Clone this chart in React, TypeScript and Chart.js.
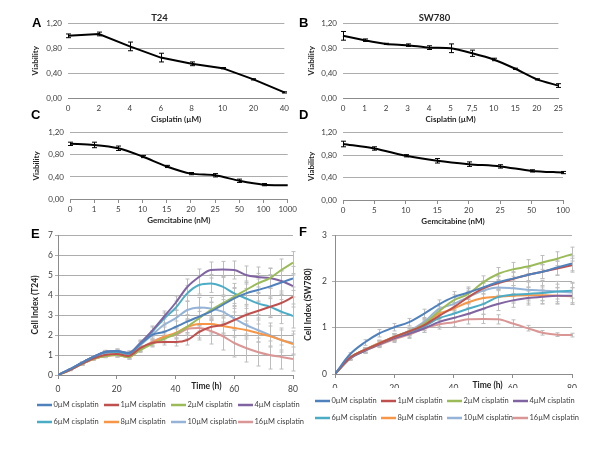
import React, { useEffect, useRef } from "react";
import { Chart, registerables } from "chart.js";

Chart.register(...registerables);

const FONT = "Lato, 'Open Sans', 'Liberation Sans', sans-serif";
Chart.defaults.font.family = FONT;
Chart.defaults.color = "#404040";

// ---------- Panel A: T24, cisplatin ----------
const catsA = ["0", "2", "4", "6", "8", "10", "20", "40"];
const viabA = [1.0, 1.03, 0.83, 0.65, 0.55, 0.48, 0.3, 0.09];
const errA = [0.03, 0.03, 0.07, 0.07, 0.03, 0.01, 0.01, 0.01];

// ---------- Panel B: SW780, cisplatin ----------
const catsB = ["0", "1", "2", "3", "4", "5", "7,5", "10", "15", "20", "25"];
const viabB = [1.0, 0.93, 0.87, 0.85, 0.81, 0.8, 0.72, 0.62, 0.47, 0.3, 0.2];
const errB = [0.07, 0.02, 0.01, 0.02, 0.03, 0.07, 0.05, 0.02, 0.01, 0.01, 0.03];

// ---------- Panel C: T24, gemcitabine ----------
const catsC = ["0", "1", "5", "10", "15", "20", "25", "50", "100", "1000"];
const viabC = [1.0, 0.98, 0.92, 0.77, 0.59, 0.46, 0.43, 0.33, 0.26, 0.25];
const errC = [0.03, 0.05, 0.04, 0.02, 0.02, 0.02, 0.03, 0.03, 0.02, 0.0];

// ---------- Panel D: SW780, gemcitabine ----------
const catsD = ["0", "5", "10", "15", "20", "25", "50", "100"];
const viabD = [1.0, 0.92, 0.79, 0.7, 0.64, 0.6, 0.52, 0.49];
const errD = [0.05, 0.03, 0.02, 0.04, 0.04, 0.03, 0.02, 0.02];

// ---------- Series names (E, F) ----------
const seriesNames = [
  "0µM cisplatin",
  "1µM cisplatin",
  "2µM cisplatin",
  "4µM cisplatin",
  "6µM cisplatin",
  "8µM cisplatin",
  "10µM cisplatin",
  "16µM cisplatin",
];
const seriesColors = ["#4F81BD", "#C0504D", "#9BBB59", "#8064A2", "#4BACC6", "#F79646", "#95B3D7", "#D99694"];

// ---------- Panel E: Cell index T24 ----------
const timesE = [0, 4, 8, 12, 16, 20, 24, 28, 32, 36, 40, 44, 48, 52, 56, 60, 64, 68, 72, 76, 80];
const e0 = [0, 0.28, 0.6, 0.9, 1.15, 1.2, 1.1, 1.55, 2.0, 2.15, 2.4, 2.67, 2.92, 3.17, 3.5, 3.83, 4.08, 4.25, 4.42, 4.62, 4.83];
const e1 = [0, 0.25, 0.55, 0.82, 1.0, 1.05, 0.95, 1.35, 1.6, 1.65, 1.65, 1.75, 2.15, 2.4, 2.5, 2.75, 3.0, 3.2, 3.4, 3.6, 3.9];
const e2 = [0, 0.25, 0.55, 0.8, 0.95, 1.0, 0.9, 1.25, 1.55, 1.8, 2.05, 2.42, 2.83, 3.25, 3.58, 3.92, 4.25, 4.58, 4.83, 5.25, 5.62];
const e4 = [0, 0.28, 0.6, 0.9, 1.15, 1.2, 1.1, 1.6, 2.2, 2.9, 3.6, 4.4, 4.9, 5.25, 5.28, 5.25, 5.0, 4.9, 4.85, 4.7, 4.45];
const e6 = [0, 0.28, 0.6, 0.9, 1.12, 1.15, 1.05, 1.55, 2.15, 2.8, 3.35, 4.08, 4.5, 4.58, 4.42, 4.08, 3.83, 3.58, 3.42, 3.17, 2.95];
const e8 = [0, 0.25, 0.55, 0.8, 0.95, 1.0, 0.9, 1.3, 1.6, 1.9, 2.1, 2.4, 2.55, 2.55, 2.45, 2.35, 2.25, 2.1, 1.95, 1.75, 1.55];
const e10 = [0, 0.28, 0.6, 0.9, 1.1, 1.15, 1.05, 1.5, 2.0, 2.5, 2.83, 3.25, 3.38, 3.33, 3.17, 2.83, 2.5, 2.25, 2.0, 1.75, 1.6];
const e16 = [0, 0.25, 0.55, 0.8, 0.95, 1.0, 0.9, 1.3, 1.65, 1.9, 2.0, 2.3, 2.35, 2.2, 1.95, 1.6, 1.35, 1.15, 1.0, 0.9, 0.8];

const se0 = [0, 0.03, 0.05, 0.06, 0.08, 0.1, 0.1, 0.15, 0.2, 0.25, 0.3, 0.35, 0.4, 0.45, 0.5, 0.5, 0.55, 0.55, 0.6, 0.6, 0.6];
const se1 = [0, 0.03, 0.05, 0.06, 0.08, 0.1, 0.1, 0.12, 0.15, 0.15, 0.2, 0.25, 0.3, 0.35, 0.4, 0.4, 0.45, 0.45, 0.5, 0.5, 0.5];
const se2 = [0, 0.03, 0.05, 0.06, 0.08, 0.1, 0.1, 0.12, 0.15, 0.2, 0.25, 0.3, 0.35, 0.4, 0.4, 0.45, 0.45, 0.5, 0.5, 0.55, 0.55];
const se4 = [0, 0.03, 0.05, 0.06, 0.08, 0.1, 0.1, 0.15, 0.25, 0.3, 0.35, 0.4, 0.4, 0.4, 0.4, 0.45, 0.45, 0.5, 0.5, 0.5, 0.55];
const se6 = [0, 0.03, 0.05, 0.06, 0.08, 0.1, 0.1, 0.15, 0.25, 0.3, 0.35, 0.4, 0.45, 0.45, 0.5, 0.5, 0.5, 0.55, 0.55, 0.6, 0.6];
const se8 = [0, 0.03, 0.05, 0.06, 0.08, 0.1, 0.1, 0.12, 0.15, 0.2, 0.25, 0.3, 0.35, 0.4, 0.4, 0.45, 0.45, 0.45, 0.5, 0.5, 0.5];
const se10 = [0, 0.03, 0.05, 0.06, 0.08, 0.1, 0.1, 0.15, 0.2, 0.3, 0.4, 0.45, 0.5, 0.55, 0.6, 0.6, 0.6, 0.6, 0.6, 0.6, 0.6];
const se16 = [0, 0.03, 0.05, 0.06, 0.08, 0.1, 0.1, 0.12, 0.15, 0.25, 0.4, 0.5, 0.6, 0.65, 0.7, 0.7, 0.7, 0.7, 0.7, 0.6, 0.6];

// ---------- Panel F: Cell index SW780 ----------
const timesF = [0, 5, 10, 15, 20, 25, 30, 35, 40, 45, 50, 55, 60, 65, 70, 75, 80];
const f0 = [0, 0.42, 0.68, 0.88, 1.01, 1.12, 1.3, 1.5, 1.66, 1.76, 1.87, 1.98, 2.06, 2.14, 2.21, 2.3, 2.39];
const f1 = [0, 0.35, 0.52, 0.66, 0.8, 0.92, 1.05, 1.25, 1.44, 1.66, 1.85, 1.96, 2.05, 2.14, 2.21, 2.28, 2.35];
const f2 = [0, 0.35, 0.52, 0.66, 0.8, 0.92, 1.08, 1.35, 1.59, 1.73, 1.98, 2.16, 2.26, 2.32, 2.41, 2.49, 2.59];
const f4 = [0, 0.33, 0.5, 0.64, 0.77, 0.87, 0.98, 1.12, 1.21, 1.3, 1.41, 1.51, 1.59, 1.64, 1.67, 1.69, 1.69];
const f6 = [0, 0.34, 0.5, 0.65, 0.78, 0.9, 1.02, 1.2, 1.3, 1.41, 1.51, 1.66, 1.71, 1.73, 1.75, 1.78, 1.8];
const f8 = [0, 0.35, 0.52, 0.67, 0.8, 0.92, 1.08, 1.3, 1.41, 1.55, 1.64, 1.67, 1.69, 1.7, 1.7, 1.69, 1.68];
const f10 = [0, 0.33, 0.52, 0.67, 0.8, 0.93, 1.12, 1.4, 1.51, 1.66, 1.8, 1.87, 1.85, 1.82, 1.8, 1.78, 1.76];
const f16 = [0, 0.33, 0.5, 0.63, 0.75, 0.85, 0.98, 1.07, 1.12, 1.18, 1.19, 1.18, 1.09, 0.99, 0.89, 0.85, 0.84];

const sf0 = [0, 0.04, 0.06, 0.08, 0.08, 0.08, 0.1, 0.1, 0.12, 0.12, 0.14, 0.14, 0.15, 0.15, 0.15, 0.16, 0.16];
const sf1 = [0, 0.03, 0.05, 0.06, 0.07, 0.08, 0.08, 0.1, 0.1, 0.12, 0.12, 0.14, 0.14, 0.15, 0.15, 0.15, 0.15];
const sf2 = [0, 0.03, 0.05, 0.06, 0.07, 0.08, 0.1, 0.1, 0.12, 0.12, 0.14, 0.14, 0.15, 0.15, 0.15, 0.15, 0.15];
const sf4 = [0, 0.03, 0.05, 0.06, 0.07, 0.08, 0.08, 0.1, 0.1, 0.12, 0.12, 0.14, 0.15, 0.15, 0.16, 0.17, 0.18];
const sf6 = [0, 0.03, 0.05, 0.06, 0.07, 0.08, 0.08, 0.1, 0.1, 0.12, 0.12, 0.14, 0.15, 0.15, 0.16, 0.16, 0.16];
const sf8 = [0, 0.03, 0.05, 0.06, 0.07, 0.08, 0.08, 0.1, 0.1, 0.12, 0.14, 0.15, 0.16, 0.17, 0.18, 0.18, 0.18];
const sf10 = [0, 0.03, 0.05, 0.06, 0.07, 0.08, 0.1, 0.12, 0.14, 0.15, 0.16, 0.17, 0.18, 0.2, 0.22, 0.22, 0.22];
const sf16 = [0, 0.03, 0.05, 0.06, 0.07, 0.08, 0.08, 0.1, 0.1, 0.1, 0.1, 0.1, 0.08, 0.06, 0.05, 0.04, 0.04];

const GRID = "#adadad";
const AXIS = "#8c8c8c";

// ---------- plugins ----------
function drawErrorBars(chart: any, opts: any) {
  const ctx = chart.ctx;
  const yScale = chart.scales.y;
  ctx.save();
  ctx.strokeStyle = opts.color;
  ctx.lineWidth = opts.width;
  chart.data.datasets.forEach((ds: any, i: number) => {
    const errs = ds.errors;
    if (!errs) return;
    const meta = chart.getDatasetMeta(i);
    meta.data.forEach((pt: any, j: number) => {
      const raw = ds.data[j];
      const v = typeof raw === "number" ? raw : raw.y;
      const e = errs[j];
      if (!e) return;
      const x = Math.round(pt.x) + 0.5;
      const yt = yScale.getPixelForValue(v + e);
      const yb = yScale.getPixelForValue(v - e);
      ctx.beginPath();
      ctx.moveTo(x, yt);
      ctx.lineTo(x, yb);
      ctx.moveTo(x - opts.cap, yt);
      ctx.lineTo(x + opts.cap, yt);
      ctx.moveTo(x - opts.cap, yb);
      ctx.lineTo(x + opts.cap, yb);
      ctx.stroke();
    });
  });
  ctx.restore();
}

const errorBarPlugin = {
  id: "errorBars",
  beforeDatasetsDraw(chart: any, _a: any, opts: any) {
    if (opts && opts.behind) drawErrorBars(chart, opts);
  },
  afterDatasetsDraw(chart: any, _a: any, opts: any) {
    if (opts && !opts.behind) drawErrorBars(chart, opts);
  },
};

const inlineTitlePlugin = {
  id: "inlineTitle",
  afterDraw(chart: any, _a: any, opts: any) {
    if (!opts || !opts.text) return;
    const ctx = chart.ctx;
    ctx.save();
    ctx.font = `bold 8.5px ${FONT}`;
    ctx.fillStyle = "#262626";
    ctx.textAlign = "center";
    ctx.textBaseline = "middle";
    ctx.fillText(opts.text, chart.scales.x.getPixelForValue(opts.at), chart.chartArea.bottom + opts.dy);
    ctx.restore();
  },
};

// Excel-style legend laid out in fixed columns under the plot
const gridLegendPlugin = {
  id: "gridLegend",
  afterDraw(chart: any, _a: any, opts: any) {
    if (!opts || !opts.cols) return;
    const ctx = chart.ctx;
    const ca = chart.chartArea;
    ctx.save();
    ctx.font = `${opts.fontSize}px ${FONT}`;
    ctx.textBaseline = "middle";
    ctx.textAlign = "left";
    chart.data.datasets.forEach((ds: any, i: number) => {
      const col = i % opts.cols;
      const row = Math.floor(i / opts.cols);
      const x = Math.round(ca.left + opts.dx + col * opts.colWidth);
      const y = Math.round(ca.bottom + opts.dy + row * opts.rowHeight);
      ctx.strokeStyle = ds.borderColor;
      ctx.lineWidth = 2.5;
      ctx.beginPath();
      ctx.moveTo(x, y);
      ctx.lineTo(x + opts.lineLen, y);
      ctx.stroke();
      ctx.fillStyle = opts.color;
      ctx.fillText(ds.label, x + opts.lineLen + 1.5, y);
    });
    ctx.restore();
  },
};

// ---------- configs ----------
function doseConfig(p: any) {
  return {
    type: "line",
    data: {
      labels: p.cats,
      datasets: [
        {
          data: p.vals,
          errors: p.errs,
          borderColor: "#000",
          backgroundColor: "#000",
          borderWidth: 2,
          pointRadius: 0,
          tension: p.tension,
        },
      ],
    },
    options: {
      responsive: false,
      animation: false,
      events: [],
      layout: { padding: { top: p.padTop, right: p.padRight, left: 0, bottom: 0 } },
      plugins: {
        legend: { display: false },
        tooltip: { enabled: false },
        title: p.title
          ? {
              display: true,
              text: p.title,
              color: "#262626",
              font: { size: 9.5, weight: "bold" },
              padding: { top: 2, bottom: 0 },
            }
          : { display: false },
        errorBars: { color: "#000", width: 1, cap: 2.5, behind: false },
      },
      scales: {
        x: {
          grid: {
            display: p.xTicks,
            drawOnChartArea: false,
            drawTicks: p.xTicks,
            tickLength: 4,
            color: AXIS,
          },
          border: { display: true, color: AXIS },
          ticks: { font: { size: 8 }, padding: p.xTicks ? 2 : 6, color: "#404040", maxRotation: 0, autoSkip: false },
          title: {
            display: true,
            text: p.xTitle,
            color: "#262626",
            font: { size: 8, weight: "bold" },
            padding: { top: 0, bottom: 4 },
          },
          afterFit: (s: any) => {
            s.height = 30;
          },
        },
        y: {
          min: 0,
          max: 1.2,
          grid: { display: true, drawOnChartArea: true, color: GRID, lineWidth: 1, drawTicks: false },
          border: { display: false },
          ticks: {
            stepSize: 0.2,
            font: { size: 8 },
            padding: 6,
            color: "#404040",
            callback: (v: any) => Number(v).toFixed(2).replace(".", ","),
          },
          title: {
            display: true,
            text: "Viability",
            color: "#262626",
            font: { size: 8, weight: "bold" },
            padding: { top: p.yTitlePad, bottom: 0 },
          },
          afterFit: (s: any) => {
            s.width = p.yW;
          },
        },
      },
    },
    plugins: [errorBarPlugin],
  };
}

function timeConfig(p: any) {
  const datasets = p.series.map((vals: number[], i: number) => ({
    label: seriesNames[i],
    data: p.times.map((t: number, j: number) => ({ x: t, y: vals[j] })),
    errors: p.errs[i],
    borderColor: seriesColors[i],
    backgroundColor: seriesColors[i],
    borderWidth: 2,
    pointRadius: 0,
    cubicInterpolationMode: "monotone",
  }));
  return {
    type: "line",
    data: { datasets },
    options: {
      responsive: false,
      animation: false,
      events: [],
      layout: { padding: { top: 8, right: p.padRight, left: 0, bottom: p.padBottom } },
      plugins: {
        tooltip: { enabled: false },
        legend: { display: false },
        errorBars: { color: "#bdbdbd", width: 1, cap: 2, behind: true },
        inlineTitle: { text: "Time (h)", at: p.titleAt, dy: 11 },
        gridLegend: {
          cols: 4,
          colWidth: p.colWidth,
          rowHeight: 17,
          dx: p.legendDx,
          dy: p.legendDy,
          lineLen: 15,
          fontSize: 7.5,
          color: "#404040",
        },
      },
      scales: {
        x: {
          type: "linear",
          min: 0,
          max: 80,
          ticks: { stepSize: 20, font: { size: 8.5 }, padding: 5, color: "#404040" },
          grid: { drawOnChartArea: false, tickLength: 4, color: AXIS },
          border: { color: AXIS },
          afterFit: (s: any) => {
            s.height = p.xH;
          },
        },
        y: {
          min: 0,
          max: p.yMax,
          ticks: { stepSize: 1, font: { size: 8.5 }, padding: p.yTickPad, color: "#404040" },
          grid: { display: true, drawOnChartArea: true, color: GRID, lineWidth: 1, tickLength: 3 },
          border: { color: AXIS },
          title: {
            display: true,
            text: p.yTitle,
            color: "#262626",
            font: { size: 8.5, weight: "bold" },
            padding: { top: p.yTitlePad, bottom: 0 },
          },
          afterFit: (s: any) => {
            s.width = p.yW;
          },
        },
      },
    },
    plugins: [errorBarPlugin, inlineTitlePlugin, gridLegendPlugin],
  };
}

function ChartCanvas({ left, top, width, height, make }: any) {
  const ref = useRef<HTMLCanvasElement>(null);
  useEffect(() => {
    const chart = new Chart(ref.current as HTMLCanvasElement, make());
    return () => chart.destroy();
  }, []);
  return (
    <canvas
      ref={ref}
      width={width}
      height={height}
      style={{ position: "absolute", left, top, width, height }}
    />
  );
}

function Letter({ ch, left, top }: any) {
  return (
    <div
      style={{
        position: "absolute",
        left,
        top,
        font: "bold 13px 'Liberation Sans', Arial, sans-serif",
        lineHeight: "13px",
        color: "#000",
      }}
    >
      {ch}
    </div>
  );
}

export default function App() {
  return (
    <div
      style={{
        position: "absolute",
        left: 0,
        top: 0,
        width: 600,
        height: 450,
        background: "#fff",
        overflow: "hidden",
      }}
    >
      <ChartCanvas
        left={30}
        top={10}
        width={265}
        height={118}
        make={() =>
          doseConfig({
            cats: catsA, vals: viabA, errs: errA, title: "T24", xTitle: "Cisplatin (µM)",
            tension: 0, xTicks: false, padTop: 0, padRight: 6, yW: 38, yTitlePad: 1,
          })
        }
      />
      <ChartCanvas
        left={306}
        top={10}
        width={263}
        height={118}
        make={() =>
          doseConfig({
            cats: catsB, vals: viabB, errs: errB, title: "SW780", xTitle: "Cisplatin (µM)",
            tension: 0.2, xTicks: false, padTop: 0, padRight: 6, yW: 37, yTitlePad: 1,
          })
        }
      />
      <ChartCanvas
        left={31}
        top={122}
        width={268}
        height={107}
        make={() =>
          doseConfig({
            cats: catsC, vals: viabC, errs: errC, title: null, xTitle: "Gemcitabine (nM)",
            tension: 0.3, xTicks: true, padTop: 8, padRight: 7, yW: 39, yTitlePad: 1,
          })
        }
      />
      <ChartCanvas
        left={306}
        top={122}
        width={266}
        height={108}
        make={() =>
          doseConfig({
            cats: catsD, vals: viabD, errs: errD, title: null, xTitle: "Gemcitabine (nM)",
            tension: 0.3, xTicks: true, padTop: 8, padRight: 7, yW: 37, yTitlePad: 1,
          })
        }
      />
      <ChartCanvas
        left={19}
        top={227}
        width={286}
        height={209}
        make={() =>
          timeConfig({
            times: timesE,
            series: [e0, e1, e2, e4, e6, e8, e10, e16],
            errs: [se0, se1, se2, se4, se6, se8, se10, se16],
            yMax: 7, yTitle: "Cell Index (T24)", yTitlePad: 11, yW: 39, padRight: 12, padBottom: 44,
            yTickPad: 2, xH: 17, titleAt: 50.5,
            colWidth: 67, legendDx: -21, legendDy: 30,
          })
        }
      />
      <ChartCanvas
        left={290}
        top={225}
        width={300}
        height={207}
        make={() =>
          timeConfig({
            times: timesF,
            series: [f0, f1, f2, f4, f6, f8, f10, f16],
            errs: [sf0, sf1, sf2, sf4, sf6, sf8, sf10, sf16],
            yMax: 3, yTitle: "Cell Index (SW780)", yTitlePad: 13, yW: 45, padRight: 18, padBottom: 44,
            yTickPad: 5, xH: 14, titleAt: 51.5,
            colWidth: 66, legendDx: -20, legendDy: 27,
          })
        }
      />
      <Letter ch="A" left={32} top={16} />
      <Letter ch="B" left={299} top={16} />
      <Letter ch="C" left={31} top={108} />
      <Letter ch="D" left={299} top={108} />
      <Letter ch="E" left={31} top={227} />
      <Letter ch="F" left={299} top={225} />
    </div>
  );
}
